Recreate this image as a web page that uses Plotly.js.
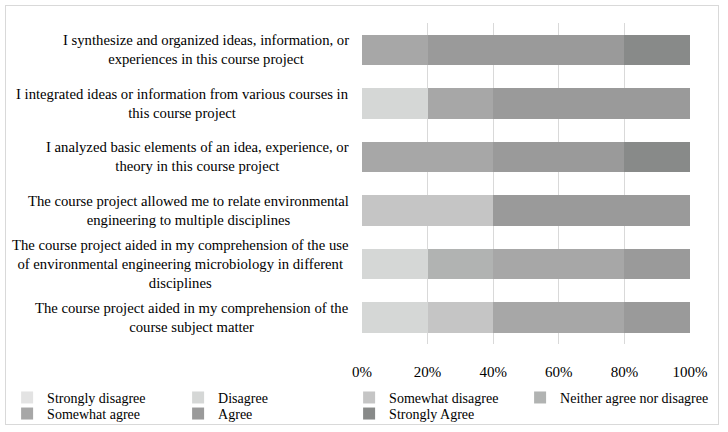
<!DOCTYPE html>
<html>
<head>
<meta charset="utf-8">
<script src="https://cdn.plot.ly/plotly-3.0.1.min.js"></script>
<style>
html,body{margin:0;padding:0;background:#fff;}
#wrap{position:relative;width:728px;height:432px;}
#chart{position:absolute;left:0;top:0;width:728px;height:432px;}
#frame{position:absolute;left:5px;top:5px;width:712px;height:418px;border:1px solid #d9d9d9;pointer-events:none;}
</style>
</head>
<body>
<div id="wrap"><div id="chart"></div><div id="frame"></div></div>
<script>
const categories = [
  "I synthesize and organized ideas, information, or<br>experiences in this course project",
  "I integrated ideas or information from various courses in<br>this course project",
  "I analyzed basic elements of an idea, experience, or<br>theory in this course project",
  "The course project allowed me to relate environmental<br>engineering to multiple disciplines",
  "The course project aided in my comprehension of the use<br>of environmental engineering microbiology in different<br>disciplines",
  "The course project aided in my comprehension of the<br>course subject matter"
];
const seriesNames = ["Strongly disagree","Disagree","Somewhat disagree","Neither agree nor disagree","Somewhat agree","Agree","Strongly Agree"];
const stronglyDisagree = [0, 0, 0, 0, 0, 0];
const disagree         = [0, 20, 0, 0, 20, 20];
const somewhatDisagree = [0, 0, 0, 40, 0, 20];
const neither          = [0, 0, 0, 0, 20, 0];
const somewhatAgree    = [20, 20, 40, 0, 40, 40];
const agree            = [60, 60, 40, 60, 20, 20];
const stronglyAgree    = [20, 0, 20, 0, 0, 0];
const xTickVals = [0, 20, 40, 60, 80, 100];
const xTickText = ["0%", "20%", "40%", "60%", "80%", "100%"];
const colors = ["#e3e3e3", "#d5d7d6", "#c5c5c5", "#b1b3b2", "#a7a7a7", "#9a9a9a", "#888a89"];
// legend group for each series (rows of the legend: 1st row cols 1-3, 1st row col 4, 2nd row)
const legendIds = ["legend", "legend", "legend", "legend2", "legend3", "legend3", "legend3"];

const seriesValues = [stronglyDisagree, disagree, somewhatDisagree, neither, somewhatAgree, agree, stronglyAgree];
const FONT = "'Liberation Serif', 'Times New Roman', serif";

const traces = seriesNames.map((name, i) => ({
  type: 'bar',
  orientation: 'h',
  name: name,
  x: seriesValues[i],
  y: categories,
  legend: legendIds[i],
  marker: {color: colors[i], line: {width: 0}},
  hoverinfo: 'x+name'
}));

const annotations = categories.map(c => ({
  x: 0, xref: 'paper', xanchor: 'right', xshift: -11,
  y: c, yref: 'y', yanchor: 'middle',
  text: c, showarrow: false, align: 'center',
  font: {family: FONT, size: 14.7, color: '#000'}
}));

const legendBase = {
  orientation: 'h', traceorder: 'normal',
  xanchor: 'left', yanchor: 'top',
  font: {family: FONT, size: 14, color: '#000'},
  itemclick: false, itemdoubleclick: false,
  tracegroupgap: 0, bgcolor: 'rgba(0,0,0,0)'
};

const layout = {
  width: 728, height: 432,
  margin: {l: 362, r: 38, t: 23, b: 88, autoexpand: false},
  barmode: 'stack',
  bargap: 0.43,
  paper_bgcolor: '#fff', plot_bgcolor: '#fff',
  font: {family: FONT, size: 14, color: '#000'},
  xaxis: {
    range: [0, 100], tickvals: xTickVals, ticktext: xTickText,
    showgrid: true, gridcolor: '#d9d9d9', gridwidth: 1,
    zeroline: false, showline: false,
    ticks: 'outside', ticklen: 14, tickcolor: 'rgba(0,0,0,0)',
    tickfont: {family: FONT, size: 15, color: '#000'},
    fixedrange: true
  },
  yaxis: {
    type: 'category', categoryorder: 'array', categoryarray: categories,
    autorange: 'reversed', showticklabels: false, showgrid: false,
    zeroline: false, showline: false, ticks: '', fixedrange: true
  },
  legend:  Object.assign({}, legendBase, {x: -1.082, y: -0.118, entrywidth: 126, entrywidthmode: 'pixels'}),
  legend2: Object.assign({}, legendBase, {x: 0.482, y: -0.118}),
  legend3: Object.assign({}, legendBase, {x: -1.082, y: -0.168, entrywidth: 126, entrywidthmode: 'pixels'}),
  annotations: annotations,
  showlegend: true
};

Plotly.newPlot('chart', traces, layout, {displayModeBar: false, staticPlot: true});
</script>
</body>
</html>
